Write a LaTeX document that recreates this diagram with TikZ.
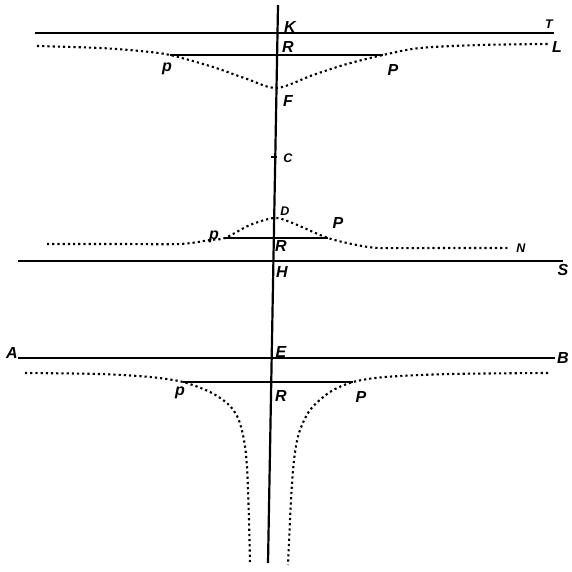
\documentclass[tikz,border=0pt]{standalone}
\usepackage{fontspec}
\setmainfont{Liberation Sans}
\usepackage{tikz}

\begin{document}
\begin{tikzpicture}[x=1pt, y=-1pt,
    linea/.style={line width=1.8pt},
    punti/.style={line width=2.1pt, dash pattern=on 2.2pt off 3pt},
    lettera/.style={font=\fontsize{16}{16}\selectfont\bfseries\itshape, inner sep=0pt},
    letterina/.style={font=\fontsize{12.5}{12.5}\selectfont\bfseries\itshape, inner sep=0pt}]
    \useasboundingbox (0,0) rectangle (571,572);

    % Asse verticale
    \coordinate (alto) at (278,5);
    \coordinate (basso) at (268,563);
    \draw[line width=2.2pt] (alto) -- (basso);

    % Linea K T e curva L
    \coordinate (kT0) at (35,33);
    \coordinate (kT1) at (554,33);
    \draw[linea] (kT0) -- (kT1);
    \coordinate (r1a) at (170,55);
    \coordinate (r1b) at (383,55);
    \draw[linea] (r1a) -- (r1b);
    \draw[punti] plot[smooth, tension=0.5] coordinates
        {(37,46) (100,48) (140,51) (r1a) (213,67) (247,79) (277,88)
         (313,75) (347,64) (r1b) (420,48) (480,45) (548,44)};
    \node[lettera] (K) at (290,27) {K};
    \node[lettera] (R1) at (288,47) {R};
    \node[lettera] (F) at (288,101) {F};
    \node[letterina] (T) at (549,24) {T};
    \node[lettera] (L) at (557,47) {L};
    \node[lettera] (p1) at (167,69) {p};
    \node[lettera] (P1) at (393,70) {P};

    % Punto C
    \draw[line width=1.2pt] (271,157) -- (277,157);
    \node[letterina] (C) at (288,158) {C};

    % Linea H S e curva N
    \coordinate (hS0) at (18,261);
    \coordinate (hS1) at (563,261);
    \draw[linea] (hS0) -- (hS1);
    \coordinate (r2a) at (225,238);
    \coordinate (r2b) at (328,238);
    \draw[linea] (r2a) -- (r2b);
    \draw[punti] plot[smooth, tension=0.5] coordinates
        {(47,244) (120,244) (180,244) (210,240) (r2a) (250,225) (274,218)
         (290,222) (r2b) (357,245) (380,248) (440,248) (509,248)};
    \node[letterina] (D) at (285,211) {D};
    \node[lettera] (p2) at (214,237) {p};
    \node[lettera] (P2) at (338,223) {P};
    \node[lettera] (R2) at (281,246) {R};
    \node[letterina] (N) at (521,248) {N};
    \node[lettera] (H) at (282,272) {H};
    \node[lettera] (S) at (563,270) {S};

    % Linea A B e imbuto
    \coordinate (aB0) at (18,358);
    \coordinate (aB1) at (555,358);
    \draw[linea] (aB0) -- (aB1);
    \coordinate (r3a) at (183,382);
    \coordinate (r3b) at (353,382);
    \draw[linea] (r3a) -- (r3b);
    \draw[punti] plot[smooth, tension=0.5] coordinates
        {(25,373) (100,374) (150,377) (r3a) (210,392) (228,404) (238,418)
         (244,440) (247,467) (249,520) (250,565)};
    \draw[punti] plot[smooth, tension=0.5] coordinates
        {(548,373) (450,374) (385,377) (r3b) (330,392) (310,410) (299,433)
         (294,460) (291,500) (288,565)};
    \node[lettera] (A) at (12,353) {A};
    \node[lettera] (E) at (281,352) {E};
    \node[lettera] (B) at (563,358) {B};
    \node[lettera] (p3) at (180,393) {p};
    \node[lettera] (R3) at (281,396) {R};
    \node[lettera] (P3) at (361,397) {P};
\end{tikzpicture}
\end{document}
